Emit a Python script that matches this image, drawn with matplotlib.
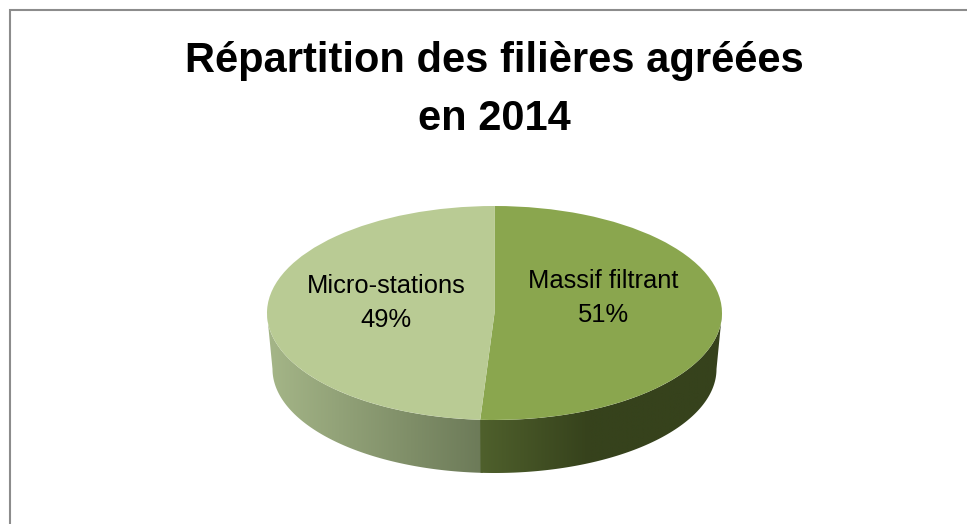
import numpy as np
import matplotlib
matplotlib.use("Agg")
import matplotlib.pyplot as plt
from matplotlib.colors import LinearSegmentedColormap
from matplotlib.patches import Polygon, Rectangle
from matplotlib.transforms import Affine2D

W, H = 967, 524

categories = ["Massif filtrant", "Micro-stations"]
values = [51, 49]
title = "Répartition des filières agréées\nen 2014"

top_colors = ["#8aa64e", "#b9cb94"]

# pie geometry in pixels (y measured from the bottom of the picture)
cx, cy = 494.5, H - 313
rx, ry = 227.5, 107
# bottom rim is a bit narrower than the top face
cx_b, cy_b = 494.5, H - 369
rx_b, ry_b = 222, 104

plt.rcParams['font.family'] = ['Liberation Sans', 'DejaVu Sans']

fig = plt.figure(figsize=(W / 100, H / 100), dpi=100)
ax = fig.add_axes([0, 0, 1, 1])

# chart frame
ax.add_patch(Rectangle((9.5, -10), W + 10, H - 9.5 + 10, fill=False, ec="#8c8c8c", lw=1.5, zorder=1))

# top face
wedges, _ = ax.pie(values, colors=top_colors, startangle=90, counterclock=False, radius=1,
                   wedgeprops={"linewidth": 0})
face = Affine2D().scale(rx, ry).translate(cx, cy) + ax.transData
for w in wedges:
    w.set_transform(face)
    w.set_zorder(4)

ax.set_aspect('auto')
ax.axis('off')

# side wall, lower half of the pie only; left part overlaps a little so no seam shows
boundary = 90 - 360 * values[0] / sum(values) + 360
side_ranges = [(180, boundary + 0.6), (boundary, 360)]
side_stops = [
    [(0.0, "#a5b688"), (1.0, "#6c7a58")],
    [(0.0, "#4f602c"), (0.45, "#36421c"), (1.0, "#36421c")],
]
for i, ((a0, a1), stops) in enumerate(zip(side_ranges, side_stops)):
    t = np.radians(np.linspace(a0, a1, 200))
    xs = cx + rx * np.cos(t)
    ys = cy + ry * np.sin(t)
    xs_b = cx_b + rx_b * np.cos(t)
    ys_b = cy_b + ry_b * np.sin(t)
    outline = np.column_stack([np.r_[xs, xs_b[::-1]], np.r_[ys, ys_b[::-1]]])
    clip = Polygon(outline, closed=True, transform=ax.transData, fc="none", ec="none")
    ax.add_patch(clip)
    cmap = LinearSegmentedColormap.from_list("side", stops)
    im = ax.imshow(np.linspace(0, 1, 256)[None, :], cmap=cmap, aspect='auto', zorder=2 + i * 0.1,
                   extent=[outline[:, 0].min(), outline[:, 0].max(), outline[:, 1].min(), outline[:, 1].max()])
    im.set_clip_path(clip)

ax.set_xlim(0, W)
ax.set_ylim(0, H)

# slice labels
label_pos = [(603, H - 298), (386, H - 303)]
for cat, val, (lx, ly) in zip(categories, values, label_pos):
    ax.text(lx, ly, f"{cat}\n{val}%", ha='center', va='center', fontsize=18.4, color="black",
            linespacing=1.54, zorder=5)

ax.text(494.5, H - 90, title, ha='center', va='center', fontsize=30, fontweight='bold',
        color="black", linespacing=1.6, zorder=5)

fig.savefig("out.png", dpi=100)
